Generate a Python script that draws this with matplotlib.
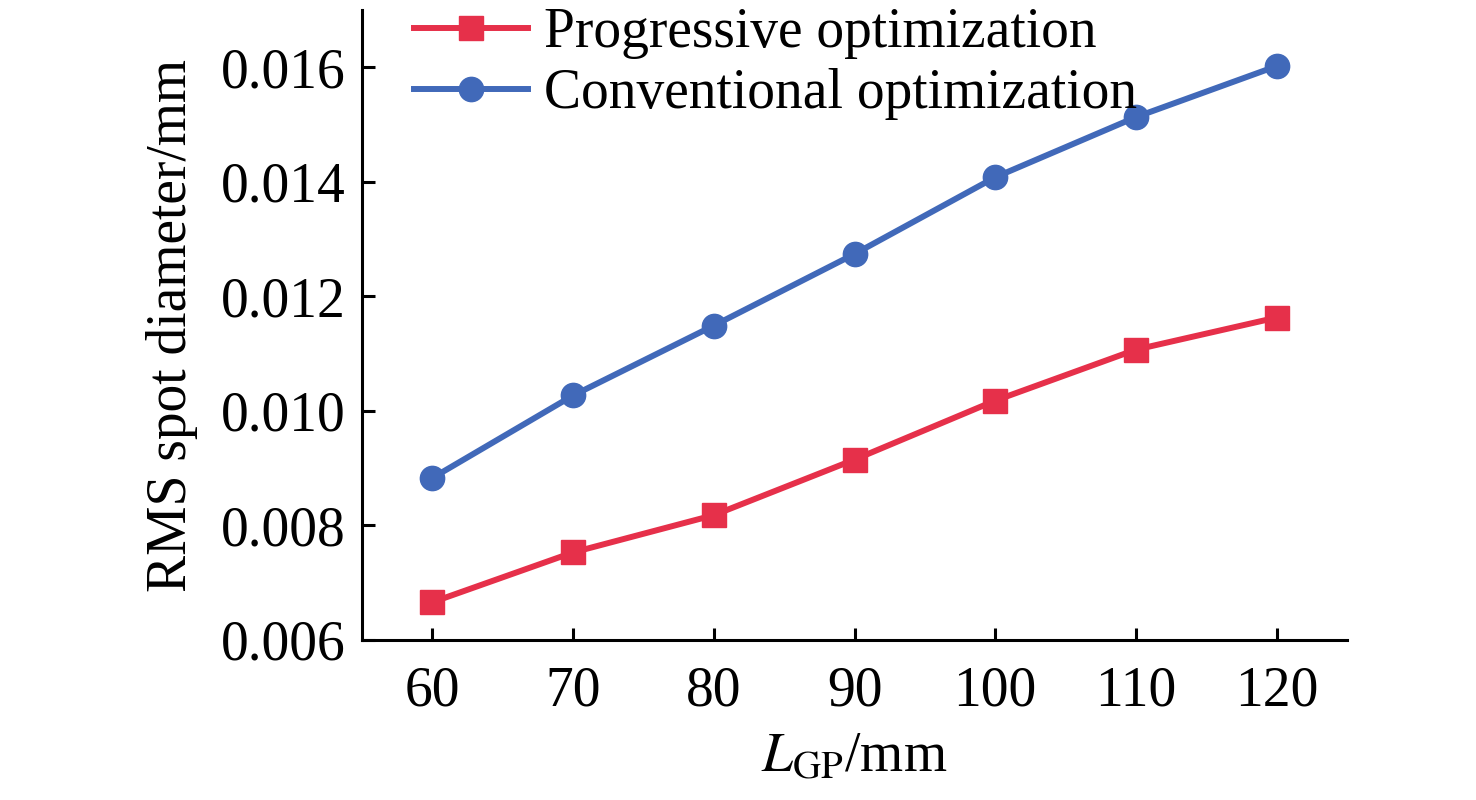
import matplotlib
matplotlib.use("Agg")
import matplotlib.pyplot as plt

x = [60, 70, 80, 90, 100, 110, 120]
progressive = [0.00666, 0.00753, 0.00818, 0.00915, 0.01018, 0.01107, 0.01163]
conventional = [0.00883, 0.01027, 0.01149, 0.01274, 0.01408, 0.01513, 0.01602]
yticks = [0.006, 0.008, 0.010, 0.012, 0.014, 0.016]
xticks = [60, 70, 80, 90, 100, 110, 120]

plt.rcParams['font.family'] = ['Liberation Serif', 'DejaVu Serif']
plt.rcParams['mathtext.fontset'] = 'stix'

fig = plt.figure(figsize=(14.76, 8.0), dpi=100)
ax = fig.add_axes([0.2453, 0.2, 0.6673, 0.7875])

red = '#E6304A'
blue = '#4169B9'
ax.plot(x, progressive, color=red, lw=4.3, marker='s', ms=17, label='Progressive optimization')
ax.plot(x, conventional, color=blue, lw=4.3, marker='o', ms=17.5, label='Conventional optimization')

ax.set_xlim(55, 125)
ax.set_ylim(0.006, 0.017)
ax.set_xticks(xticks)
ax.set_xticklabels([str(v) for v in xticks])
ax.set_yticks(yticks)
ax.set_yticklabels([f'{v:.3f}' for v in yticks])
ax.tick_params(direction='in', length=9, width=2.2, labelsize=40, pad=12)
ax.tick_params(axis='x', pad=18)
for s in ['top', 'right']:
    ax.spines[s].set_visible(False)
for s in ['left', 'bottom']:
    ax.spines[s].set_linewidth(2.2)

ax.set_xlabel(r'$L_{\mathrm{GP}}$/mm', fontsize=40, labelpad=10)
ax.set_ylabel('RMS spot diameter/mm', fontsize=40, labelpad=16)

ax.legend(loc='upper left', bbox_to_anchor=(0.03, 1.04), frameon=False, fontsize=40,
          handlelength=2.05, handletextpad=0.3, labelspacing=0.17, borderaxespad=0)

fig.savefig('out.png', dpi=100)
